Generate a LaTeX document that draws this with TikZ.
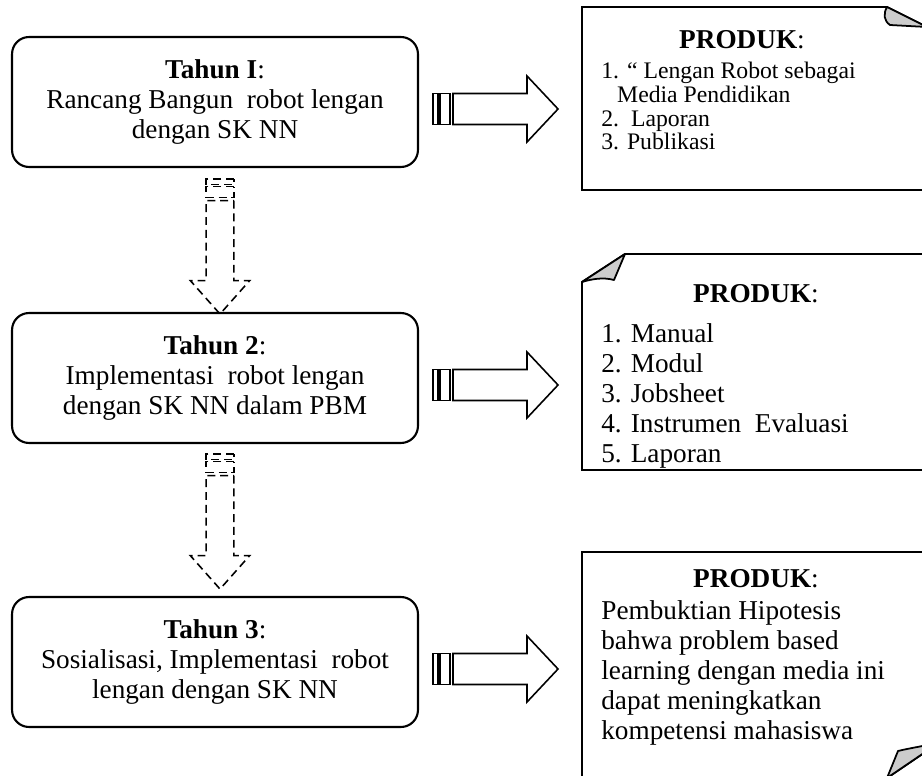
\documentclass[tikz,border=0pt]{standalone}
\usepackage{fontspec}
\setmainfont{Liberation Serif}
\usepackage{tikz}
\usetikzlibrary{calc}
\definecolor{flapgray}{RGB}{204,204,204}
\tikzset{every picture/.append style={x=0.02cm,y=-0.02cm}}
\tikzset{bigfont/.style={font=\fontsize{15.5}{17}\selectfont}}
\tikzset{smallfont/.style={font=\fontsize{13.5}{13.6}\selectfont}}
\tikzset{yearbox/.style={draw, line width=1.2pt, rounded corners=0.34cm, minimum width=8.12cm, minimum height=2.6cm, align=center, inner sep=0pt, bigfont}}
\tikzset{prodbox/.style={line width=1.1pt, line join=miter}}
\tikzset{flap/.style={draw, line width=1pt, fill=flapgray, line join=round}}
\tikzset{prodhead/.style={anchor=base, inner sep=0pt, bigfont}}
\tikzset{prodlist/.style={anchor=base west, align=left, inner sep=0pt, bigfont}}
\tikzset{dasharrow/.style={dash pattern=on 4.5pt off 2.8pt}}
\tikzset{stripearrow/.pic={
  \draw[line width=0.9pt] (0,-15.5) rectangle (5,15.5);
  \draw[line width=0.9pt] (7,-15.5) rectangle (17,15.5);
  \draw[line width=0.9pt, line join=miter] (20,-15.5) -- (94,-15.5) -- (94,-33) -- (125,0) -- (94,33) -- (94,15.5) -- (20,15.5) -- cycle;
}}

\begin{document}
\begin{tikzpicture}
  \useasboundingbox (0,0) rectangle (922,776);
  \clip (0,0) rectangle (922,776);

  \node (t1) at (215,102)[yearbox]{\textbf{Tahun I}:\\ Rancang Bangun\ \ robot lengan\\ dengan SK NN};
  \node (t2) at (215,378)[yearbox]{\textbf{Tahun 2}:\\ Implementasi\ \ robot lengan\\ dengan SK NN dalam PBM};
  \node (t3) at (215,662)[yearbox]{\textbf{Tahun 3}:\\ Sosialisasi, Implementasi\ \ robot\\ lengan dengan SK NN};

  \draw[prodbox] (582,7) -- (887,7) -- (927,27) -- (927,190) -- (582,190) -- cycle;
  \draw[flap] (887,7) .. controls (883,14) and (884,21) .. (890,25) -- (927,27) -- cycle;
  \node (p1h) at (742,49)[prodhead]{\textbf{PRODUK}:};
  \node (p1) at (601,150)[prodlist, smallfont]{1. “ Lengan Robot sebagai\\ \hspace*{9pt}Media Pendidikan\\ 2.\ \ Laporan\\ 3. Publikasi};

  \draw[prodbox] (582,282) -- (625,254) -- (935,254) -- (935,470) -- (582,470) -- cycle;
  \draw[flap] (582,282) -- (625,254) -- (614,280) .. controls (603,277) and (592,279) .. (582,282) -- cycle;
  \node (p2h) at (756,303)[prodhead]{\textbf{PRODUK}:};
  \node (p2) at (601,462)[prodlist]{1. Manual\\ 2. Modul\\ 3. Jobsheet\\ 4. Instrumen\ \ Evaluasi\\ 5. Laporan};

  \draw[prodbox] (582,552) -- (940,552) -- (940,742) -- (887,778) -- (582,778) -- cycle;
  \draw[flap] (887,778) -- (898,751) .. controls (910,748) and (925,746) .. (940,742) -- cycle;
  \node (p3h) at (756,587)[prodhead]{\textbf{PRODUK}:};
  \node (p3) at (601,739)[prodlist]{Pembuktian Hipotesis\\ bahwa problem based\\ learning dengan media ini\\ dapat meningkatkan\\ kompetensi mahasiswa};

  \pic at ($(t1.east)+(14,7)$) {stripearrow};
  \pic at ($(t2.east)+(14,7)$) {stripearrow};
  \pic at ($(t3.east)+(14,7)$) {stripearrow};
  \pic[rotate=-90, xscale=1.08, yscale=0.9, dasharrow] at ($(t1.south)+(5,11)$) {stripearrow};
  \pic[rotate=-90, xscale=1.08, yscale=0.9, dasharrow] at ($(t2.south)+(5,10)$) {stripearrow};
\end{tikzpicture}
\end{document}
